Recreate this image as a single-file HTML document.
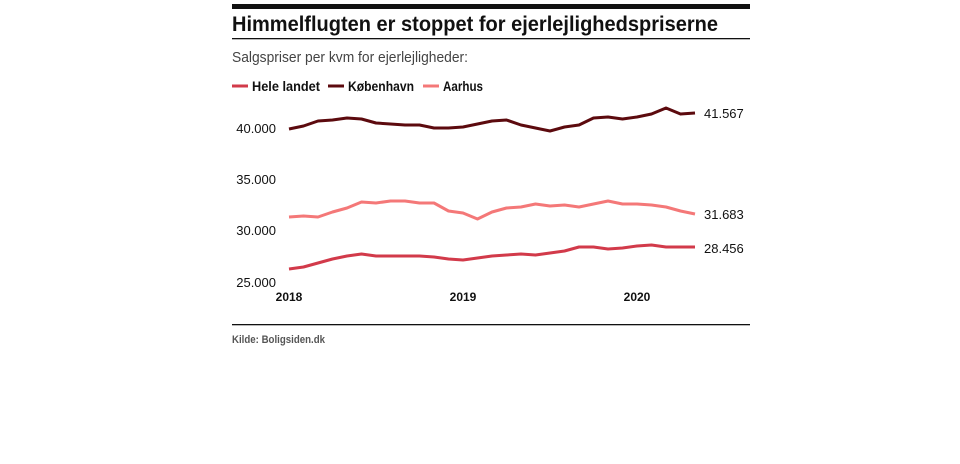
<!DOCTYPE html>
<html><head><meta charset="utf-8"><style>
body{margin:0;background:#fff;width:960px;height:464px;overflow:hidden}
svg{display:block}
</style></head><body>
<svg width="960" height="464" xmlns="http://www.w3.org/2000/svg" font-family="Liberation Sans, sans-serif">
<rect x="232" y="4" width="518" height="5" fill="#111"/>
<text x="232" y="31" font-size="21" font-weight="bold" fill="#111" textLength="486" lengthAdjust="spacingAndGlyphs">Himmelflugten er stoppet for ejerlejlighedspriserne</text>
<rect x="232" y="38" width="518" height="1.3" fill="#111"/>
<text x="232" y="62" font-size="15" fill="#444" textLength="236" lengthAdjust="spacingAndGlyphs">Salgspriser per kvm for ejerlejligheder:</text>
<g font-size="14" font-weight="bold" fill="#111">
<line x1="232" y1="86" x2="248" y2="86" stroke="#d23a4a" stroke-width="3"/><text x="252" y="91" textLength="68" lengthAdjust="spacingAndGlyphs">Hele landet</text>
<line x1="328" y1="86" x2="344" y2="86" stroke="#5c0a0e" stroke-width="3"/><text x="348" y="91" textLength="66" lengthAdjust="spacingAndGlyphs">København</text>
<line x1="423" y1="86" x2="439" y2="86" stroke="#f47878" stroke-width="3"/><text x="443" y="91" textLength="40" lengthAdjust="spacingAndGlyphs">Aarhus</text>
</g>
<g font-size="13" fill="#111" text-anchor="end">
<text x="276" y="133">40.000</text><text x="276" y="184">35.000</text><text x="276" y="235">30.000</text><text x="276" y="287">25.000</text>
</g>
<g font-size="12" font-weight="bold" fill="#111" text-anchor="middle">
<text x="289" y="301">2018</text><text x="463" y="301">2019</text><text x="637" y="301">2020</text>
</g>
<g fill="none" stroke-width="3" stroke-linejoin="round">
<polyline stroke="#5c0a0e" points="289,129 303.5,126 318,121 332.5,120 347,118 361.5,119 376,123 390.5,124 405,125 419.5,125 434,128 448.5,128 463,127 477.5,124 492,121 506.5,120 521,125 535.5,128 550,131 564.5,127 579,125 593.5,118 608,117 622.5,119 637,117 651.5,114 666,108 680.5,114 695,113"/>
<polyline stroke="#f47878" points="289,217 303.5,216 318,217 332.5,212 347,208 361.5,202 376,203 390.5,201 405,201 419.5,203 434,203 448.5,211 463,213 477.5,219 492,212 506.5,208 521,207 535.5,204 550,206 564.5,205 579,207 593.5,204 608,201 622.5,204 637,204 651.5,205 666,207 680.5,211 695,214"/>
<polyline stroke="#d23a4a" points="289,269 303.5,267 318,263 332.5,259 347,256 361.5,254 376,256 390.5,256 405,256 419.5,256 434,257 448.5,259 463,260 477.5,258 492,256 506.5,255 521,254 535.5,255 550,253 564.5,251 579,247 593.5,247 608,249 622.5,248 637,246 651.5,245 666,247 680.5,247 695,247"/>
</g>
<g font-size="13" fill="#111">
<text x="704" y="118">41.567</text><text x="704" y="219">31.683</text><text x="704" y="253">28.456</text>
</g>
<rect x="232" y="324" width="518" height="1.3" fill="#111"/>
<text x="232" y="343" font-size="11" font-weight="bold" fill="#555" textLength="93" lengthAdjust="spacingAndGlyphs">Kilde: Boligsiden.dk</text>
</svg>
</body></html>
